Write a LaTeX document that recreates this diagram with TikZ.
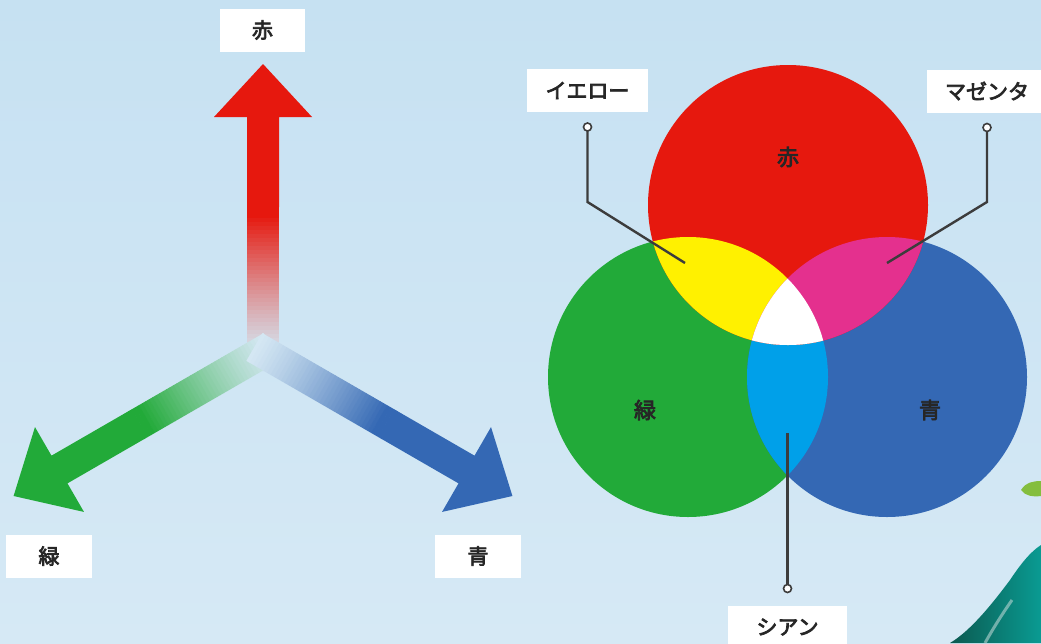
\documentclass[tikz,border=0pt]{standalone}
\usepackage{fontspec}
\newfontfamily\jpfont[FakeBold=3.5]{Noto Sans CJK JP}
\usetikzlibrary{positioning}
\definecolor{bgtop}{RGB}{198,225,242}
\definecolor{bgbot}{RGB}{214,233,245}
\definecolor{arrlite}{RGB}{212,231,243}
\definecolor{redc}{RGB}{230,24,14}
\definecolor{greenc}{RGB}{34,170,57}
\definecolor{bluec}{RGB}{52,104,180}
\definecolor{yellowc}{RGB}{255,241,0}
\definecolor{magentac}{RGB}{228,48,142}
\definecolor{cyanc}{RGB}{0,160,233}
\definecolor{linec}{RGB}{60,60,60}
\definecolor{tealc}{RGB}{14,112,100}
\definecolor{leafc}{RGB}{132,190,62}
\def\arrlen{288}
\def\headlen{53}
\def\headwd{49}
\def\shaftwd{16}
\def\vr{140}
\tikzset{
lbl box/.style={fill=white,inner sep=0pt,minimum height=43,
  font=\jpfont\fontsize{21}{24}\selectfont,text=black!85},
circ text/.style={font=\jpfont\fontsize{22}{24}\selectfont,text=black!85},
leader/.style={draw=linec,line width=2.4pt},
dot/.style={circle,draw=linec,fill=white,line width=1.6pt,minimum size=8pt,inner sep=0pt},
}
% arrow fading in from the common origin: #1 angle, #2 colour
\newcommand{\fadearrow}[2]{%
  \begin{scope}[shift={(263,352)},rotate=#1]
    \foreach \i in {0,...,38} {
      \pgfmathsetmacro{\p}{min(100,100*(\i/36)^1.2)}
      \fill[#2!\p!arrlite] (\i*4-10,-\shaftwd) rectangle (\i*4-5.5,\shaftwd);
    }
    \fill[#2] (145,-\shaftwd) -- ({\arrlen-\headlen},-\shaftwd) -- ({\arrlen-\headlen},-\headwd)
      -- (\arrlen,0) -- ({\arrlen-\headlen},\headwd) -- ({\arrlen-\headlen},\shaftwd)
      -- (145,\shaftwd) -- cycle;
  \end{scope}}
\begin{document}
\begin{tikzpicture}[x=1pt,y=-1pt]
\useasboundingbox (0,0) rectangle (1041,643);
\shade[top color=bgtop,bottom color=bgbot] (0,0) rectangle (1041,643);

% left: three arrows
\fadearrow{90}{redc}
\fadearrow{210}{greenc}
\fadearrow{330}{bluec}
\node[lbl box,minimum width=85] (lblR) at (262.5,30) {赤};
\node[lbl box,minimum width=86] (lblG) at (49,556) {緑};
\node[lbl box,minimum width=86] (lblB) at (478,556) {青};

% right: additive colour circles
\coordinate (cR) at (788,205);
\coordinate (cG) at (688,377);
\coordinate (cB) at (887,377);
\fill[greenc] (cG) circle[radius=\vr];
\fill[bluec] (cB) circle[radius=\vr];
\fill[redc] (cR) circle[radius=\vr];
\begin{scope}
  \clip (cG) circle[radius=\vr];
  \fill[cyanc] (cB) circle[radius=\vr];
\end{scope}
\begin{scope}
  \clip (cR) circle[radius=\vr];
  \fill[yellowc] (cG) circle[radius=\vr];
  \fill[magentac] (cB) circle[radius=\vr];
  \clip (cG) circle[radius=\vr];
  \fill[white] (cB) circle[radius=\vr];
\end{scope}
\node[circ text] (txtR) at (788,157) {赤};
\node[circ text] (txtG) at (645,410) {緑};
\node[circ text] (txtB) at (930,410) {青};

% leaders
\node[lbl box,minimum width=121] (lblY) at (587.5,90.5) {イエロー};
\node[lbl box,minimum width=120] (lblM) at (987,91) {マゼンタ};
\node[lbl box,minimum width=119] (lblC) at (787.5,627) {シアン};
\coordinate (bendY) at (587.5,202);
\coordinate (endY) at (685,263);
\coordinate (bendM) at (987,202);
\coordinate (endM) at (887,263);
\coordinate (endC) at (787.5,433);
\draw[leader] (587.5,126) -- (bendY) -- (endY);
\draw[leader] (987,126) -- (bendM) -- (endM);
\draw[leader] (787.5,589) -- (endC);
\node[dot,below=10pt of lblY] (dotY) {};
\node[dot,below=10pt of lblM] (dotM) {};
\node[dot,above=12pt of lblC] (dotC) {};

% corner of the scenery
\fill[leafc] (1021,490) .. controls (1026,482) and (1034,481) .. (1041,481)
  -- (1041,496) .. controls (1033,497) and (1025,496) .. cycle;
\shade[left color=tealc!80!black,right color=tealc!70!cyan] (950,643)
  .. controls (972,630) and (995,600) .. (1010,580)
  .. controls (1020,565) and (1030,552) .. (1041,545) -- (1041,643) -- cycle;
\draw[white!70!tealc,line width=3pt,opacity=0.6] (985,643) .. controls (995,625) and (1005,610) .. (1012,600);
\end{tikzpicture}
\end{document}
